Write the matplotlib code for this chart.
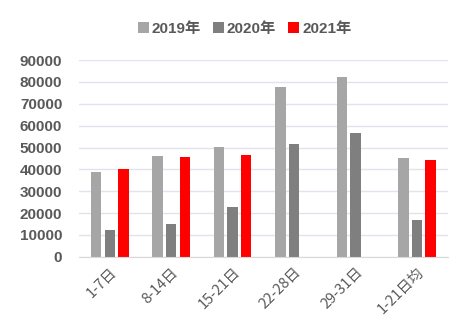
import matplotlib.pyplot as plt
import numpy as np

plt.rcParams['font.family'] = ['Liberation Sans', 'Noto Sans CJK SC']

categories = ["1-7日", "8-14日", "15-21日", "22-28日", "29-31日", "1-21日均"]
series_names = ["2019年", "2020年", "2021年"]
v2019 = [38800, 46100, 50400, 77800, 82300, 45100]
v2020 = [12400, 15200, 22700, 51700, 56500, 16900]
v2021 = [40400, 45700, 46600, np.nan, np.nan, 44200]
colors = ["#a6a6a6", "#7f7f7f", "#ff0000"]

x = np.arange(len(categories))
width = 0.17
offset = 0.22

fig = plt.figure(figsize=(4.76, 3.34), dpi=100)
ax = fig.add_axes([0.166, 0.231, 0.775, 0.589])

for i, (vals, name, c) in enumerate(zip([v2019, v2020, v2021], series_names, colors)):
    ax.bar(x + (i - 1) * offset, vals, width, color=c, label=name, zorder=3)

ax.set_xlim(-0.5, len(categories) - 0.5)
ax.set_ylim(0, 90000)
ax.set_yticks(np.arange(0, 90001, 10000))
ax.tick_params(axis='y', length=0, labelsize=11, labelcolor="#595959", pad=12)
for t in ax.get_yticklabels():
    t.set_fontweight('bold')
ax.set_xticks(x)
ax.set_xticklabels(categories, rotation=45, ha='right', rotation_mode='anchor',
                   fontsize=10.5, color="#595959", family=['Noto Sans CJK SC', 'DejaVu Sans'])
ax.tick_params(axis='x', length=0, pad=6)
ax.grid(axis='y', color="#e1e4ec", linewidth=1, zorder=0)
for s in ['top', 'right', 'left']:
    ax.spines[s].set_visible(False)
ax.spines['bottom'].set_color("#d9d9d9")
ax.spines['bottom'].set_zorder(4)

leg = fig.legend(loc='upper center', bbox_to_anchor=(0.514, 0.975), ncol=3, frameon=False,
                 handlelength=0.7, handleheight=0.7, handletextpad=0.2, columnspacing=0.8,
                 prop={'size': 11, 'weight': 'bold'})
for t in leg.get_texts():
    t.set_color("#595959")

fig.savefig("out.png", dpi=100)
